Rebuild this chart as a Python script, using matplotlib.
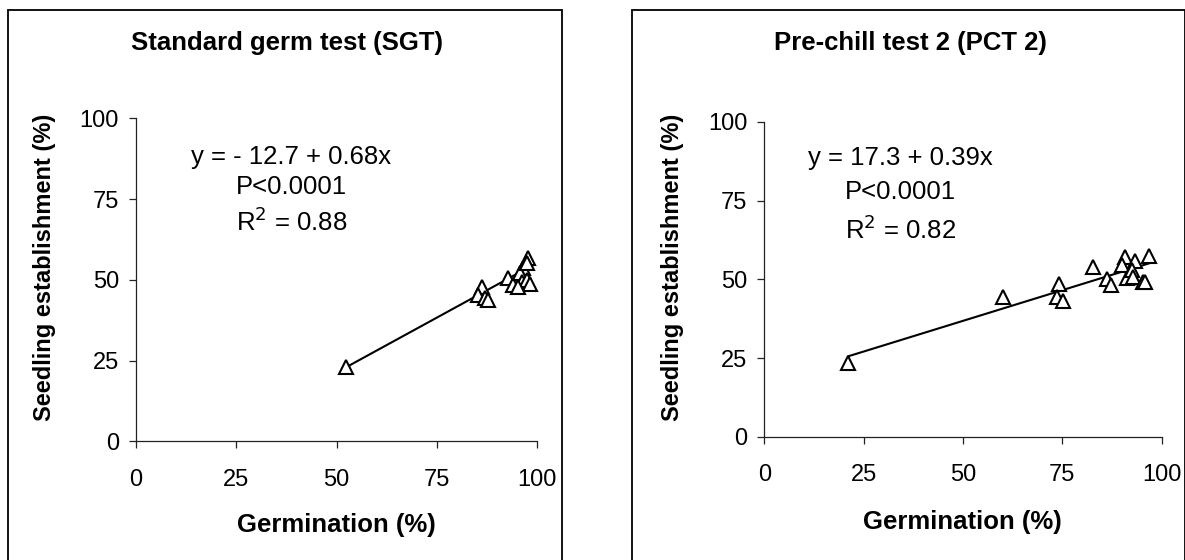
import matplotlib
matplotlib.use("Agg")
import matplotlib.pyplot as plt
from matplotlib.patches import Rectangle
import numpy as np

plt.rcParams['font.family'] = ['Liberation Sans', 'DejaVu Sans']

# ---- data ----
titles = ["Standard germ test (SGT)", "Pre-chill test 2 (PCT 2)"]
x_label = "Germination (%)"
y_label = "Seedling establishment (%)"
ticks = [0, 25, 50, 75, 100]

germ_sgt = [52.3, 86.2, 85.3, 87.0, 87.8, 92.8, 94.0, 96.5, 95.7, 97.8, 97.4, 96.1, 97.4, 98.2, 95.3]
estab_sgt = [23.1, 47.9, 45.3, 44.3, 43.7, 50.5, 48.4, 53.6, 52.0, 56.7, 55.1, 49.4, 49.9, 48.6, 47.9]
fit_sgt = (-12.7, 0.68)
stats_sgt = ["y = - 12.7 + 0.68x", "P<0.0001", "R$^2$ = 0.88"]

germ_pct = [21.2, 60.1, 74.2, 73.6, 75.3, 82.8, 86.2, 87.2, 90.8, 90.0, 93.3, 91.2, 92.5, 92.9, 95.4, 95.8, 96.9]
estab_pct = [23.5, 44.5, 48.4, 44.3, 43.1, 54.0, 50.1, 48.2, 57.2, 54.6, 55.8, 50.3, 53.0, 50.8, 49.3, 49.0, 57.4]
fit_pct = (17.3, 0.39)
stats_pct = ["y = 17.3 + 0.39x", "P<0.0001", "R$^2$ = 0.82"]

W, H = 1185, 560
fig = plt.figure(figsize=(W / 100, H / 100), dpi=100)

panels = [
    dict(ax=[135.7, 118.3, 537.3, 441.3], frame=[8, 561.7], title_x=287, ylab_x=45,
         xlab_y=525, gx=germ_sgt, ey=estab_sgt, fit=fit_sgt, stats=stats_sgt,
         stat_x=38.8, stat_y=[88.0, 78.8, 68.0], title=titles[0]),
    dict(ax=[764.2, 122.0, 1161.5, 436.7], frame=[631.7, 1184.5], title_x=910, ylab_x=673,
         xlab_y=522, gx=germ_pct, ey=estab_pct, fit=fit_pct, stats=stats_pct,
         stat_x=34.3, stat_y=[88.6, 77.8, 65.7], title=titles[1]),
]

for p in panels:
    x0, y0, x1, y1 = p['ax']
    ax = fig.add_axes([x0 / W, 1 - y1 / H, (x1 - x0) / W, (y1 - y0) / H])
    ax.set_xlim(0, 100)
    ax.set_ylim(0, 100)
    for s in ['top', 'right']:
        ax.spines[s].set_visible(False)
    for s in ['left', 'bottom']:
        ax.spines[s].set_linewidth(0.9)
        ax.spines[s].set_color('#222222')
    ax.set_xticks(ticks)
    ax.set_yticks(ticks)
    ax.tick_params(direction='out', length=5, width=0.9, color='#222222',
                   labelsize=17)
    ax.tick_params(axis='x', pad=15)
    ax.tick_params(axis='y', pad=7)
    ax.patch.set_alpha(0)

    gx = np.array(p['gx'])
    b0, b1 = p['fit']
    xs = np.array([gx.min(), gx.max()])
    ax.plot(xs, b0 + b1 * xs, color='black', lw=1.5, zorder=2, clip_on=False)
    ax.plot(p['gx'], p['ey'], linestyle='none', marker='^', markersize=10.5,
            markerfacecolor='white', markeredgecolor='black', markeredgewidth=1.5,
            zorder=3, clip_on=False)
    for txt, yy in zip(p['stats'], p['stat_y']):
        ax.text(p['stat_x'], yy, txt, ha='center', va='center', fontsize=18.5)

    fig.text(p['title_x'] / W, 1 - 43 / H, p['title'], ha='center', va='center',
             fontsize=18.5, fontweight='bold')
    fig.text((x0 + x1) / 2 / W, 1 - p['xlab_y'] / H, x_label, ha='center', va='center',
             fontsize=18.5, fontweight='bold')
    fig.text(p['ylab_x'] / W, 1 - 267 / H, y_label, ha='center', va='center',
             rotation=90, fontsize=17, fontweight='bold')

    fl, fr = p['frame']
    fig.patches.append(Rectangle((fl / W, -0.05), (fr - fl) / W, 1 - 10 / H + 0.05,
                                 transform=fig.transFigure, fill=False,
                                 edgecolor='black', linewidth=1.3, clip_on=False))

fig.savefig("out.png", dpi=100, facecolor='white')
